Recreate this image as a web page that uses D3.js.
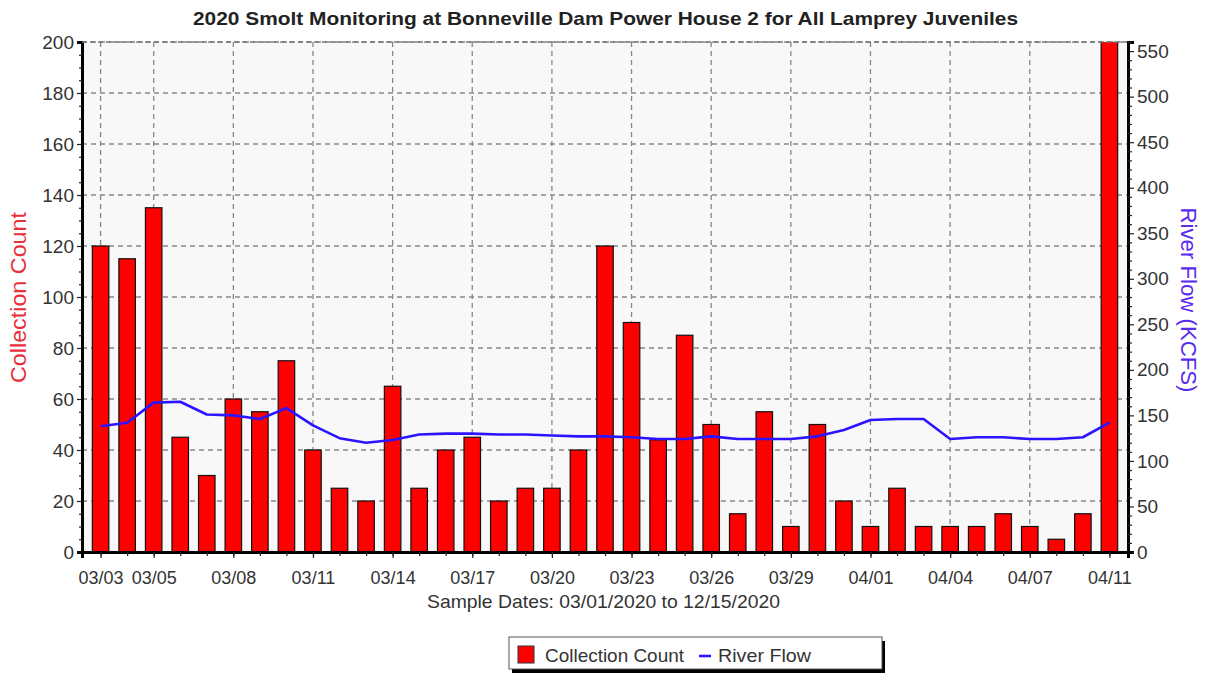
<!DOCTYPE html>
<html><head><meta charset="utf-8">
<script src="https://cdn.jsdelivr.net/npm/d3@7"></script>
<style>body{margin:0;background:#fff;} text{font-family:"Liberation Sans",Arial,sans-serif;}</style>
</head><body>
<svg id="c" width="1211" height="673"></svg>
<script>
const dates = ["03/03","03/04","03/05","03/06","03/07","03/08","03/09","03/10","03/11","03/12","03/13","03/14","03/15","03/16","03/17","03/18","03/19","03/20","03/21","03/22","03/23","03/24","03/25","03/26","03/27","03/28","03/29","03/30","03/31","04/01","04/02","04/03","04/04","04/05","04/06","04/07","04/08","04/09","04/11"];
const counts = [120,115,135,45,30,60,55,75,40,25,20,65,25,40,45,20,25,25,40,120,90,44,85,50,15,55,10,50,20,10,25,10,10,10,15,10,5,15,210];
const flow = [138,142,164,165,151,150,146,158,139,125,120,123,129,130,130,129,129,128,127,127,126,124,124,127,124,124,124,127,134,145,146,146,124,126,126,124,124,126,142];
const labeledDates = ["03/03","03/05","03/08","03/11","03/14","03/17","03/20","03/23","03/26","03/29","04/01","04/04","04/07","04/11"];
const leftTicks = [0,20,40,60,80,100,120,140,160,180,200];
const rightTicks = [0,50,100,150,200,250,300,350,400,450,500,550];

const svg = d3.select("#c");
const L = 82, R = 1128, T = 42, B = 552;
const x = d3.scalePoint().domain(dates).range([L, R]).padding(0.7);
const yL = d3.scaleLinear().domain([0,200]).range([B, T]);
const yR = d3.scaleLinear().domain([0,560]).range([B, T]);
const bw = 16.5;

svg.append("defs").append("clipPath").attr("id","pc").append("rect")
  .attr("x",L).attr("y",T).attr("width",R-L).attr("height",B-T);

svg.append("rect").attr("x",L).attr("y",T).attr("width",R-L).attr("height",B-T).attr("fill","#f8f8f8");

// grid
const g = svg.append("g");
g.selectAll(".hg").data(leftTicks.filter(d=>d>0)).join("line")
  .attr("x1",L).attr("x2",R).attr("y1",d=>yL(d)).attr("y2",d=>yL(d))
  .attr("stroke","#888").attr("stroke-width",1.3).attr("stroke-dasharray","5,4");
g.selectAll(".vg").data(labeledDates).join("line")
  .attr("x1",d=>x(d)).attr("x2",d=>x(d)).attr("y1",T).attr("y2",B)
  .attr("stroke","#888").attr("stroke-width",1.3).attr("stroke-dasharray","5,4");

// bars
svg.append("g").attr("clip-path","url(#pc)").selectAll("rect").data(dates).join("rect")
  .attr("x",(d)=>x(d)-bw/2).attr("width",bw)
  .attr("y",(d,i)=>yL(counts[i])).attr("height",(d,i)=>B-yL(counts[i]))
  .attr("fill","#ff0000").attr("stroke","#111").attr("stroke-width",1.2);

// line
const line = d3.line().x((d,i)=>x(dates[i])).y(d=>yR(d));
svg.append("path").datum(flow).attr("d",line).attr("fill","none")
  .attr("stroke","#2b14ff").attr("stroke-width",2.6).attr("stroke-linejoin","round");

// axes
const axL = d3.axisLeft(yL).tickValues(leftTicks).tickSize(5).tickPadding(3);
const aL = svg.append("g").attr("transform",`translate(${L},0)`).call(axL);
const axLm = d3.axisLeft(yL).tickValues(d3.range(0,201,5).filter(v=>v%20)).tickSize(3).tickFormat("");
svg.append("g").attr("transform",`translate(${L},0)`).call(axLm);
const axR = d3.axisRight(yR).tickValues(rightTicks).tickSize(6).tickPadding(3);
const aR = svg.append("g").attr("transform",`translate(${R},0)`).call(axR);
const axRm = d3.axisRight(yR).tickValues(d3.range(0,561,10).filter(v=>v%50)).tickSize(4).tickFormat("");
svg.append("g").attr("transform",`translate(${R},0)`).call(axRm);
const axB = d3.axisBottom(x).tickValues(labeledDates).tickSize(6).tickPadding(13);
const aB = svg.append("g").attr("transform",`translate(0,${B})`).call(axB);
const axBm = d3.axisBottom(x).tickValues(dates).tickSize(4).tickFormat("");
svg.append("g").attr("transform",`translate(0,${B})`).call(axBm);

svg.selectAll(".domain").attr("stroke","#000").attr("stroke-width",3);
svg.selectAll(".tick line").attr("stroke","#222").attr("stroke-width",1.2);
[aL,aR].forEach(a=>a.selectAll("text").attr("font-size",19).attr("fill","#333")
  .attr("font-family","'Liberation Sans',Arial,sans-serif"));
aB.selectAll("text").attr("font-size",18).attr("fill","#333")
  .attr("font-family","'Liberation Sans',Arial,sans-serif");
// top border dashed
svg.append("line").attr("x1",L).attr("x2",R).attr("y1",T).attr("y2",T)
  .attr("stroke","#777").attr("stroke-width",1.6).attr("stroke-dasharray","5,3");

// titles
svg.append("text").attr("x",605.5).attr("y",25).attr("text-anchor","middle")
  .attr("font-size",19).attr("font-weight","bold").attr("fill","#222")
  .attr("textLength",825).attr("lengthAdjust","spacingAndGlyphs")
  .text("2020 Smolt Monitoring at Bonneville Dam Power House 2 for All Lamprey Juveniles");
svg.append("text").attr("transform","translate(26,297.5) rotate(-90)").attr("text-anchor","middle")
  .attr("font-size",22).attr("fill","#e8303a").attr("textLength",171).attr("lengthAdjust","spacingAndGlyphs")
  .text("Collection Count");
svg.append("text").attr("transform","translate(1181,300) rotate(90)").attr("text-anchor","middle")
  .attr("font-size",22).attr("fill","#5a2bee").attr("textLength",185).attr("lengthAdjust","spacingAndGlyphs")
  .text("River Flow (KCFS)");
svg.append("text").attr("x",603.5).attr("y",608).attr("text-anchor","middle")
  .attr("font-size",18.5).attr("fill","#333").attr("textLength",353).attr("lengthAdjust","spacingAndGlyphs")
  .text("Sample Dates: 03/01/2020 to 12/15/2020");

// legend
const lg = svg.append("g");
lg.append("rect").attr("x",512).attr("y",641).attr("width",373).attr("height",32).attr("fill","#000");
lg.append("rect").attr("x",509).attr("y",637).attr("width",373).attr("height",32).attr("fill","#fff").attr("stroke","#555").attr("stroke-width",1);
lg.append("rect").attr("x",518).attr("y",646).attr("width",16).attr("height",17).attr("fill","#ff0000").attr("stroke","#333");
lg.append("text").attr("x",545).attr("y",662).attr("font-size",19).attr("fill","#333")
  .attr("textLength",139).attr("lengthAdjust","spacingAndGlyphs").text("Collection Count");
lg.append("line").attr("x1",699).attr("x2",711).attr("y1",656).attr("y2",656).attr("stroke","#2b14ff").attr("stroke-width",2.6);
lg.append("text").attr("x",718).attr("y",662).attr("font-size",19).attr("fill","#333")
  .attr("textLength",93).attr("lengthAdjust","spacingAndGlyphs").text("River Flow");
</script>
</body></html>
